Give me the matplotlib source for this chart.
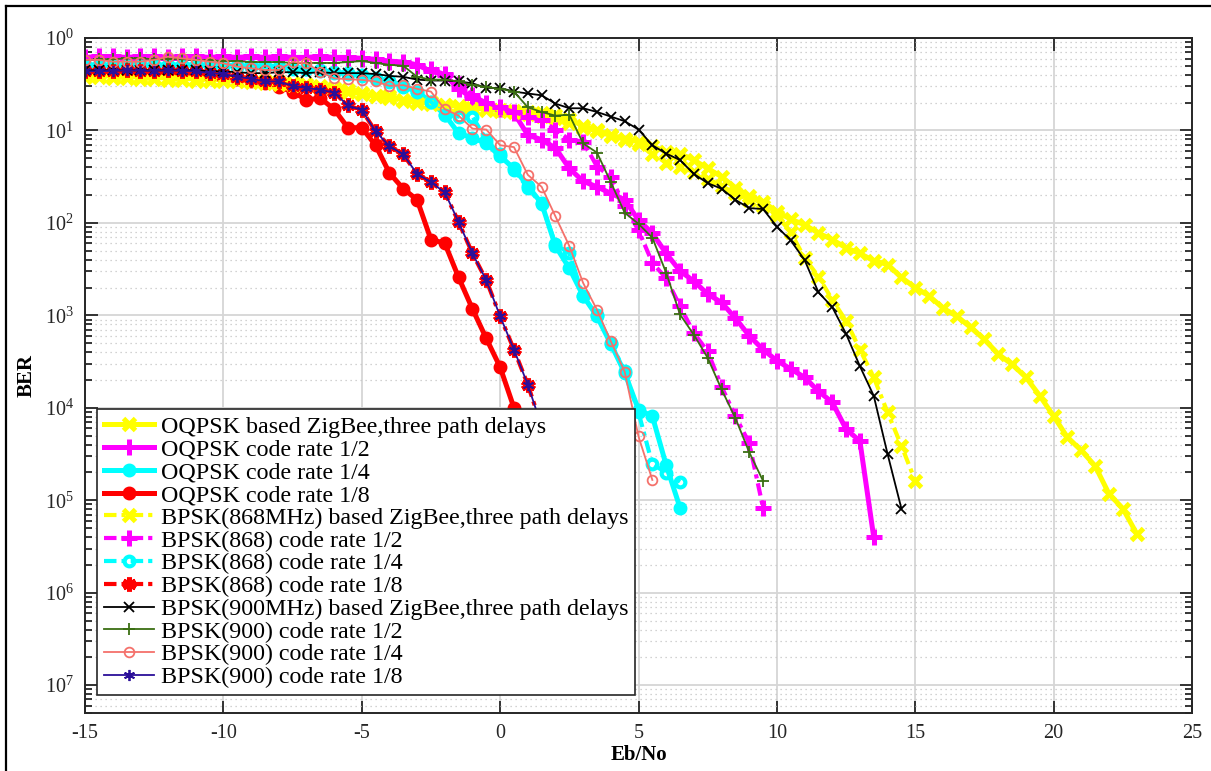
import numpy as np
import matplotlib
matplotlib.use("Agg")
import matplotlib.pyplot as plt
from matplotlib.ticker import FixedLocator, FixedFormatter, NullFormatter
from matplotlib.lines import Line2D

plt.rcParams['font.family'] = ['Liberation Serif', 'DejaVu Serif']
plt.rcParams['mathtext.default'] = 'regular'

# ---------------- data (log10 of BER, 0.5 dB steps) ----------------
x_start = -15.0
step = 0.5

oqpsk_3path = [-0.40, -0.41, -0.41, -0.42, -0.42, -0.43, -0.43, -0.44, -0.44, -0.45,
               -0.45, -0.46, -0.46, -0.47, -0.48, -0.49, -0.50, -0.52, -0.54, -0.56,
               -0.60, -0.63, -0.63, -0.67, -0.69, -0.69, -0.72, -0.74, -0.76, -0.77,
               -0.78, -0.79, -0.80, -0.81, -0.83, -0.88, -0.95, -1.00, -1.05, -1.09,
               -1.12, -1.17, -1.23, -1.25, -1.32, -1.41, -1.50, -1.62, -1.71, -1.77,
               -1.88, -1.96, -2.02, -2.11, -2.18, -2.27, -2.33, -2.41, -2.45, -2.59,
               -2.70, -2.79, -2.92, -3.01, -3.13, -3.26, -3.42, -3.53, -3.67, -3.87,
               -4.09, -4.32, -4.46, -4.63, -4.93, -5.09, -5.36]
oqpsk_r2 = [-0.21, -0.20, -0.20, -0.21, -0.20, -0.20, -0.21, -0.20, -0.20, -0.21,
            -0.20, -0.21, -0.20, -0.21, -0.20, -0.21, -0.21, -0.20, -0.21, -0.21,
            -0.22, -0.23, -0.25, -0.26, -0.29, -0.36, -0.40, -0.55, -0.65, -0.71,
            -0.77, -0.81, -1.05, -1.10, -1.19, -1.41, -1.55, -1.61, -1.68, -1.75,
            -1.97, -2.11, -2.33, -2.52, -2.63, -2.77, -2.86, -3.03, -3.22, -3.37,
            -3.49, -3.58, -3.67, -3.82, -3.94, -4.23, -4.36, -5.40]
oqpsk_r4 = [-0.29, -0.29, -0.29, -0.29, -0.29, -0.29, -0.29, -0.29, -0.29, -0.29,
            -0.29, -0.30, -0.30, -0.30, -0.31, -0.32, -0.33, -0.35, -0.37, -0.38,
            -0.40, -0.43, -0.47, -0.52, -0.58, -0.69, -0.83, -1.03, -1.08, -1.14,
            -1.28, -1.41, -1.60, -1.79, -2.25, -2.49, -2.79, -3.01, -3.31, -3.62,
            -4.02, -4.09, -4.62, -5.08]
oqpsk_r8 = [-0.35, -0.36, -0.36, -0.36, -0.37, -0.37, -0.38, -0.38, -0.39, -0.40,
            -0.42, -0.44, -0.46, -0.49, -0.53, -0.58, -0.67, -0.65, -0.77, -0.97,
            -0.97, -1.16, -1.46, -1.63, -1.75, -2.18, -2.22, -2.59, -2.93, -3.25,
            -3.56, -4.00, -4.60]
bpsk868_3path = [-0.42, -0.42, -0.43, -0.43, -0.44, -0.44, -0.45, -0.45, -0.46, -0.46,
                 -0.47, -0.47, -0.48, -0.49, -0.50, -0.51, -0.52, -0.54, -0.56, -0.58,
                 -0.61, -0.63, -0.65, -0.68, -0.70, -0.71, -0.73, -0.75, -0.77, -0.78,
                 -0.79, -0.80, -0.82, -0.84, -0.87, -0.92, -0.97, -1.01, -1.06, -1.10,
                 -1.15, -1.25, -1.35, -1.39, -1.45, -1.52, -1.60, -1.68, -1.75, -1.82,
                 -1.92, -2.10, -2.38, -2.58, -2.83, -3.06, -3.37, -3.67, -4.05, -4.41,
                 -4.79]
bpsk868_r2 = [-0.22, -0.22, -0.21, -0.22, -0.22, -0.21, -0.22, -0.22, -0.21, -0.22,
              -0.22, -0.22, -0.21, -0.22, -0.22, -0.22, -0.21, -0.22, -0.22, -0.22,
              -0.23, -0.24, -0.26, -0.27, -0.30, -0.34, -0.39, -0.50, -0.62, -0.70,
              -0.75, -0.80, -0.85, -0.89, -0.99, -1.10, -1.12, -1.39, -1.50, -1.82,
              -2.08, -2.43, -2.60, -2.90, -3.19, -3.39, -3.77, -4.09, -4.38, -5.08]
bpsk868_r4 = [-0.30, -0.30, -0.30, -0.30, -0.30, -0.30, -0.30, -0.30, -0.30, -0.30,
              -0.30, -0.31, -0.31, -0.31, -0.32, -0.33, -0.34, -0.36, -0.38, -0.39,
              -0.41, -0.44, -0.48, -0.53, -0.58, -0.69, -0.83, -0.85, -0.85, -1.10,
              -1.26, -1.43, -1.62, -1.80, -2.23, -2.33, -2.79, -3.00, -3.30, -3.60,
              -4.05, -4.61, -4.70, -4.80]
bpsk868_r8 = [-0.36, -0.36, -0.355, -0.35, -0.355, -0.355, -0.35, -0.355, -0.36, -0.38,
              -0.39, -0.42, -0.44, -0.47, -0.47, -0.52, -0.54, -0.56, -0.59, -0.73,
              -0.78, -1.01, -1.17, -1.26, -1.47, -1.56, -1.67, -1.99, -2.33, -2.62,
              -3.01, -3.37, -3.75, -4.20]
bpsk900_3path = [-0.35, -0.35, -0.35, -0.35, -0.35, -0.35, -0.35, -0.35, -0.35, -0.36,
                 -0.36, -0.37, -0.38, -0.38, -0.37, -0.37, -0.38, -0.37, -0.38, -0.38,
                 -0.38, -0.39, -0.41, -0.42, -0.45, -0.46, -0.46, -0.47, -0.49, -0.54,
                 -0.54, -0.58, -0.60, -0.62, -0.71, -0.76, -0.76, -0.80, -0.85, -0.90,
                 -0.99, -1.16, -1.25, -1.32, -1.47, -1.57, -1.63, -1.75, -1.84, -1.85,
                 -2.04, -2.19, -2.40, -2.75, -2.91, -3.20, -3.55, -3.87, -4.50, -5.09]
bpsk900_r2 = [-0.24, -0.23, -0.23, -0.22, -0.22, -0.23, -0.23, -0.23, -0.24, -0.24,
              -0.25, -0.25, -0.26, -0.26, -0.26, -0.27, -0.27, -0.27, -0.27, -0.26,
              -0.25, -0.27, -0.29, -0.30, -0.42, -0.45, -0.45, -0.47, -0.51, -0.53,
              -0.55, -0.58, -0.75, -0.80, -0.84, -0.83, -1.14, -1.24, -1.56, -1.89,
              -2.01, -2.16, -2.54, -2.99, -3.21, -3.46, -3.80, -4.11, -4.48, -4.79]
bpsk900_r4 = [-0.237, -0.237, -0.256, -0.256, -0.256, -0.237, -0.202, -0.22, -0.237, -0.256,
              -0.274, -0.31, -0.328, -0.346, -0.346, -0.256, -0.274, -0.364, -0.436, -0.446,
              -0.453, -0.47, -0.518, -0.51, -0.55, -0.58, -0.77, -0.84, -0.98, -0.99,
              -1.16, -1.18, -1.48, -1.61, -1.93, -2.25, -2.65, -2.94, -3.28, -3.61,
              -4.31, -4.78]
bpsk900_r8 = list(bpsk868_r8)

labels = ['OQPSK based ZigBee,three path delays',
          'OQPSK code rate 1/2',
          'OQPSK code rate 1/4',
          'OQPSK code rate 1/8',
          'BPSK(868MHz) based ZigBee,three path delays',
          'BPSK(868) code rate 1/2',
          'BPSK(868) code rate 1/4',
          'BPSK(868) code rate 1/8',
          'BPSK(900MHz) based ZigBee,three path delays',
          'BPSK(900) code rate 1/2',
          'BPSK(900) code rate 1/4',
          'BPSK(900) code rate 1/8']
series = [oqpsk_3path, oqpsk_r2, oqpsk_r4, oqpsk_r8,
          bpsk868_3path, bpsk868_r2, bpsk868_r4, bpsk868_r8,
          bpsk900_3path, bpsk900_r2, bpsk900_r4, bpsk900_r8]

xticks = [-15, -10, -5, 0, 5, 10, 15, 20, 25]
ytick_exp = [0, -1, -2, -3, -4, -5, -6, -7]
ytick_labels = [r'$10^{%d}$' % abs(e) for e in ytick_exp]

# ---------------- styles ----------------
dashdot = (0, (3.0, 1.2, 1.0, 1.2))
asterisk = (6, 2, 0)
styles = [
    dict(color='#ffff00', ls='-', lw=3.6, marker='x', ms=9, mew=3.6),
    dict(color='#ff00ff', ls='-', lw=3.6, marker='+', ms=11, mew=3.6),
    dict(color='#00ffff', ls='-', lw=3.6, marker='o', ms=7, mew=3.0, mfc='#00ffff'),
    dict(color='#ff0000', ls='-', lw=3.6, marker='o', ms=7, mew=3.0, mfc='#ff0000'),
    dict(color='#ffff00', ls=dashdot, lw=3.0, marker='x', ms=9, mew=3.6),
    dict(color='#ff00ff', ls=dashdot, lw=3.0, marker='+', ms=11, mew=3.6),
    dict(color='#00ffff', ls=dashdot, lw=3.0, marker='o', ms=7, mew=3.0, mfc='none'),
    dict(color='#ff0000', ls=dashdot, lw=3.0, marker=asterisk, ms=10, mew=3.6),
    dict(color='#000000', ls='-', lw=1.3, marker='x', ms=7, mew=1.3),
    dict(color='#3a6e12', ls='-', lw=1.3, marker='+', ms=9, mew=1.3),
    dict(color='#f4716b', ls='-', lw=1.3, marker='o', ms=7, mew=1.3, mfc='none'),
    dict(color='#2b0f99', ls='-', lw=1.3, marker=asterisk, ms=8, mew=1.3),
]

# ---------------- figure ----------------
W, H = 1211, 771
fig = plt.figure(figsize=(W / 100, H / 100), dpi=100)
fig.patch.set_facecolor('white')
ax = fig.add_axes([85 / W, (H - 713) / H, (1192 - 85) / W, (713 - 38) / H])

for vals, lab, st in zip(series, labels, styles):
    logv = np.array(vals)
    x = x_start + step * np.arange(len(logv))
    ax.semilogy(x, 10.0 ** logv, label=lab, **st)

ax.set_xlim(-15, 25)
ax.set_ylim(5e-8, 1)
ax.xaxis.set_major_locator(FixedLocator(xticks))
ax.set_xticklabels([str(t) for t in xticks])
ax.yaxis.set_major_locator(FixedLocator([10.0 ** e for e in ytick_exp]))
ax.yaxis.set_major_formatter(FixedFormatter(ytick_labels))
minor = [m * 10.0 ** e for e in range(-8, 0) for m in range(2, 10)]
ax.yaxis.set_minor_locator(FixedLocator(minor))
ax.yaxis.set_minor_formatter(NullFormatter())
ax.xaxis.set_minor_locator(FixedLocator([]))

ax.set_axisbelow(True)
ax.grid(True, which='major', color='#d6d6d6', lw=1.3, ls='-')
ax.grid(True, which='minor', axis='y', color='#c4c4c4', lw=0.9, ls=(0, (1, 3)))

ax.tick_params(which='both', direction='in', top=True, right=True, width=1.3,
               labelsize=14.5, colors='#262626')
ax.tick_params(which='major', length=9, pad=8)
ax.tick_params(which='minor', length=5)
for sp in ax.spines.values():
    sp.set_linewidth(1.4)
    sp.set_color('#262626')

ax.set_xlabel('Eb/No', fontsize=15, fontweight='bold', labelpad=1)
ax.set_ylabel('BER', fontsize=15, fontweight='bold', labelpad=6)

leg = ax.legend(loc='lower left', bbox_to_anchor=(12 / 1107, 18 / 675),
                borderaxespad=0, fontsize=17.3, frameon=True, fancybox=False,
                framealpha=1, edgecolor='#262626', labelspacing=0.04,
                handlelength=2.1, handletextpad=0.28, borderpad=0.28, numpoints=1)
leg.get_frame().set_linewidth(1.2)

# outer figure border (top and left visible)
fig.add_artist(Line2D([6 / W, 6 / W], [0, (H - 6) / H], color='black', lw=1.6,
                      transform=fig.transFigure))
fig.add_artist(Line2D([6 / W, 1], [(H - 6) / H, (H - 6) / H], color='black', lw=1.6,
                      transform=fig.transFigure))

fig.savefig('out.png', dpi=100)
